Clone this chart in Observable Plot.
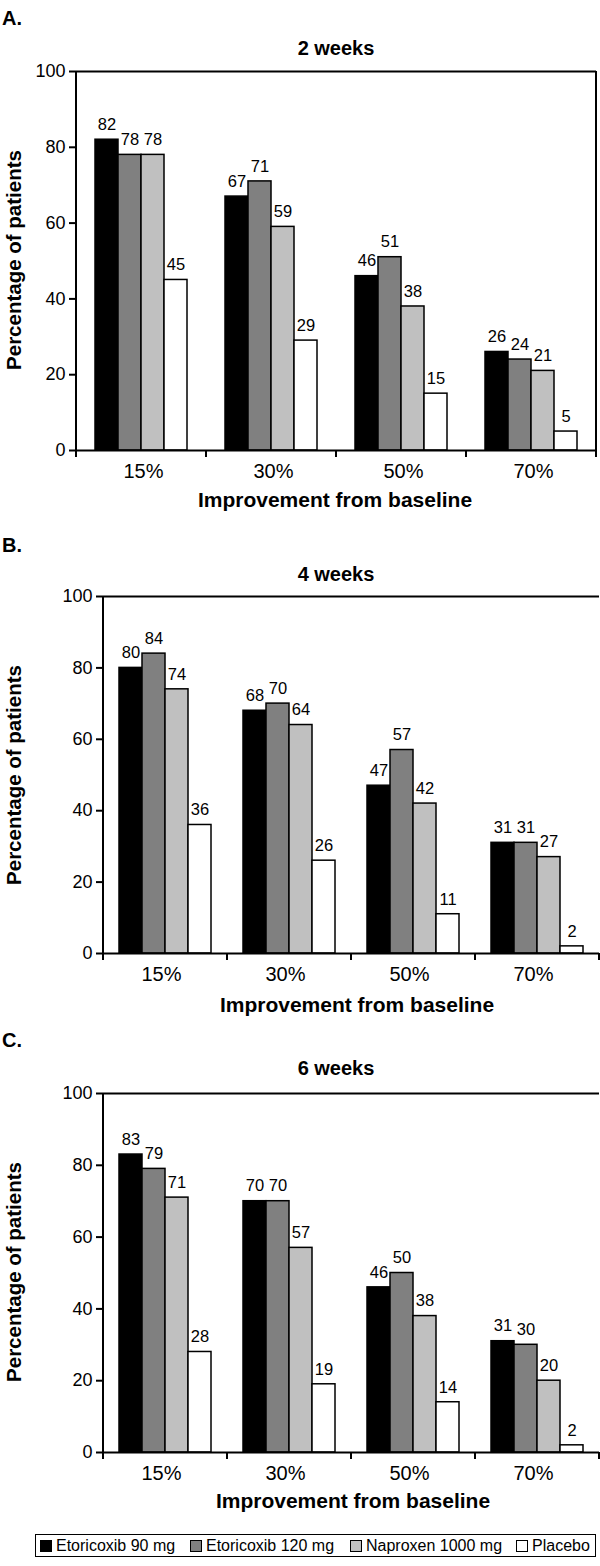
<!DOCTYPE html>
<html><head><meta charset="utf-8">
<script src="https://cdn.jsdelivr.net/npm/d3@7"></script>
<script src="https://cdn.jsdelivr.net/npm/@observablehq/plot@0.6"></script>
<style>
body{margin:0;background:#fff;font-family:"Liberation Sans",Arial,sans-serif;}
#page{position:relative;width:600px;height:1566px;overflow:hidden;background:#fff;}
.abs{position:absolute;white-space:nowrap;color:#000;line-height:1;}
.letter{font-weight:bold;font-size:20px;}
.title{font-weight:bold;font-size:20px;transform:translateX(-50%);}
.xlab{font-weight:bold;font-size:21px;transform:translateX(-50%);}
.ylab{font-weight:bold;font-size:20.5px;transform:translate(-50%,-50%) rotate(-90deg);}
.chart{position:absolute;left:0;}
#legend{position:absolute;left:35px;top:1534px;width:559px;height:21px;border:1.5px solid #000;font-size:16px;}
#legend .item{position:absolute;top:2px;display:flex;align-items:center;height:17px;}
#legend .sw{width:10px;height:10px;border:1.3px solid #000;margin-right:4px;display:inline-block;}
</style></head><body><div id="page"></div>
<script>
const categories = ["15%", "30%", "50%", "70%"];
const series = ["Etoricoxib 90 mg", "Etoricoxib 120 mg", "Naproxen 1000 mg", "Placebo"];
const colors = ["#000000", "#808080", "#c0c0c0", "#ffffff"];
const yTicks = [0, 20, 40, 60, 80, 100];
// values[category][series]
const week2 = [[82, 78, 78, 45], [67, 71, 59, 29], [46, 51, 38, 15], [26, 24, 21, 5]];
const week4 = [[80, 84, 74, 36], [68, 70, 64, 26], [47, 57, 42, 11], [31, 31, 27, 2]];
const week6 = [[83, 79, 71, 28], [70, 70, 57, 19], [46, 50, 38, 14], [31, 30, 20, 2]];
const panelLetters = ["A.", "B.", "C."];
const panelTitles = ["2 weeks", "4 weeks", "6 weeks"];
const xTitle = "Improvement from baseline";
const yTitle = "Percentage of patients";

const page = document.getElementById("page");
function addText(cls, text, left, top) {
  const d = document.createElement("div");
  d.className = "abs " + cls;
  d.textContent = text;
  d.style.left = left + "px";
  d.style.top = top + "px";
  page.appendChild(d);
  return d;
}

function drawPanel(values, o) {
  const rows = [];
  categories.forEach((c, i) => series.forEach((s, j) => rows.push({category: c, series: s, value: values[i][j]})));
  const chart = Plot.plot({
    width: 600, height: o.height,
    marginTop: 11, marginBottom: 65, marginLeft: o.marginLeft, marginRight: o.marginRight,
    style: {fontFamily: "Liberation Sans, Arial, sans-serif", color: "#000", background: "transparent", overflow: "visible"},
    fx: {domain: categories, padding: 0},
    x: {domain: series, paddingInner: 0, paddingOuter: o.paddingOuter, axis: null},
    y: {domain: [0, 100]},
    color: {domain: series, range: colors},
    marks: [
      Plot.barY(rows, {fx: "category", x: "series", y: "value", fill: "series", stroke: "#000", strokeWidth: 1.5}),
      Plot.text(rows, {fx: "category", x: "series", y: "value", text: d => String(d.value), dy: -15, fontSize: 16.5, fill: "#000"}),
      Plot.ruleY([0, 100], {stroke: "#000", strokeWidth: 2}),
      Plot.axisY({ticks: yTicks, tickSize: 7, tickPadding: 4, fontSize: 18, strokeWidth: 2, label: null}),
      Plot.axisFx({anchor: "bottom", tickSize: 0, tickPadding: 13, fontSize: 20, dx: o.labelDx, label: null})
    ]
  });
  chart.classList.add("chart");
  chart.style.top = o.top + "px";
  page.appendChild(chart);
  // axis furniture from the library's scales
  const svgEl = chart.tagName.toLowerCase() === "svg" ? chart : chart.querySelector("svg");
  const svg = d3.select(svgEl);
  const fx = chart.scale("fx"), y = chart.scale("y");
  const bw = fx.bandwidth;
  const start = c => fx.apply(c);
  const y0 = y.apply(0), y100 = y.apply(100);
  const x0 = start(categories[0]);
  const g = svg.append("g").attr("stroke", "#000").attr("stroke-width", 2);
  g.append("line").attr("x1", x0).attr("x2", x0).attr("y1", y100).attr("y2", y0);
  const bounds = categories.map(start).concat([start(categories[categories.length - 1]) + bw]);
  bounds.forEach(b => g.append("line").attr("x1", b).attr("x2", b).attr("y1", y0).attr("y2", y0 + 7));
  if (o.rightBorder) {
    const xr = bounds[bounds.length - 1];
    g.append("line").attr("x1", xr).attr("x2", xr).attr("y1", y100).attr("y2", y0);
  }
  return chart;
}

const panels = [
  {values: week2, top: 60, height: 455, marginLeft: 75, marginRight: 3, paddingOuter: 0.72, rightBorder: true, labelDx: 2,
   letterTop: 8, titleTop: 38, titleX: 336, xlabTop: 489, xlabX: 335, ylabY: 260},
  {values: week4, top: 585, height: 433, marginLeft: 102, marginRight: 0, paddingOuter: 0.594, rightBorder: false, labelDx: -4,
   letterTop: 535, titleTop: 564, titleX: 336, xlabTop: 994, xlabX: 357, ylabY: 775},
  {values: week6, top: 1082, height: 435, marginLeft: 102, marginRight: 0, paddingOuter: 0.594, rightBorder: false, labelDx: -4,
   letterTop: 1030, titleTop: 1058, titleX: 336, xlabTop: 1490, xlabX: 353, ylabY: 1272}
];

panels.forEach((p, i) => {
  drawPanel(p.values, p);
  addText("letter", panelLetters[i], 2, p.letterTop);
  addText("title", panelTitles[i], p.titleX, p.titleTop);
  addText("xlab", xTitle, p.xlabX, p.xlabTop);
  addText("ylab", yTitle, 14, p.ylabY);
});

// legend
const legend = document.createElement("div");
legend.id = "legend";
const itemLeft = [4, 154, 314, 480];
series.forEach((s, i) => {
  const it = document.createElement("div");
  it.className = "item";
  it.style.left = itemLeft[i] + "px";
  const sw = document.createElement("span");
  sw.className = "sw";
  sw.style.background = colors[i];
  it.appendChild(sw);
  it.appendChild(document.createTextNode(s));
  legend.appendChild(it);
});
page.appendChild(legend);
</script>
</body></html>
